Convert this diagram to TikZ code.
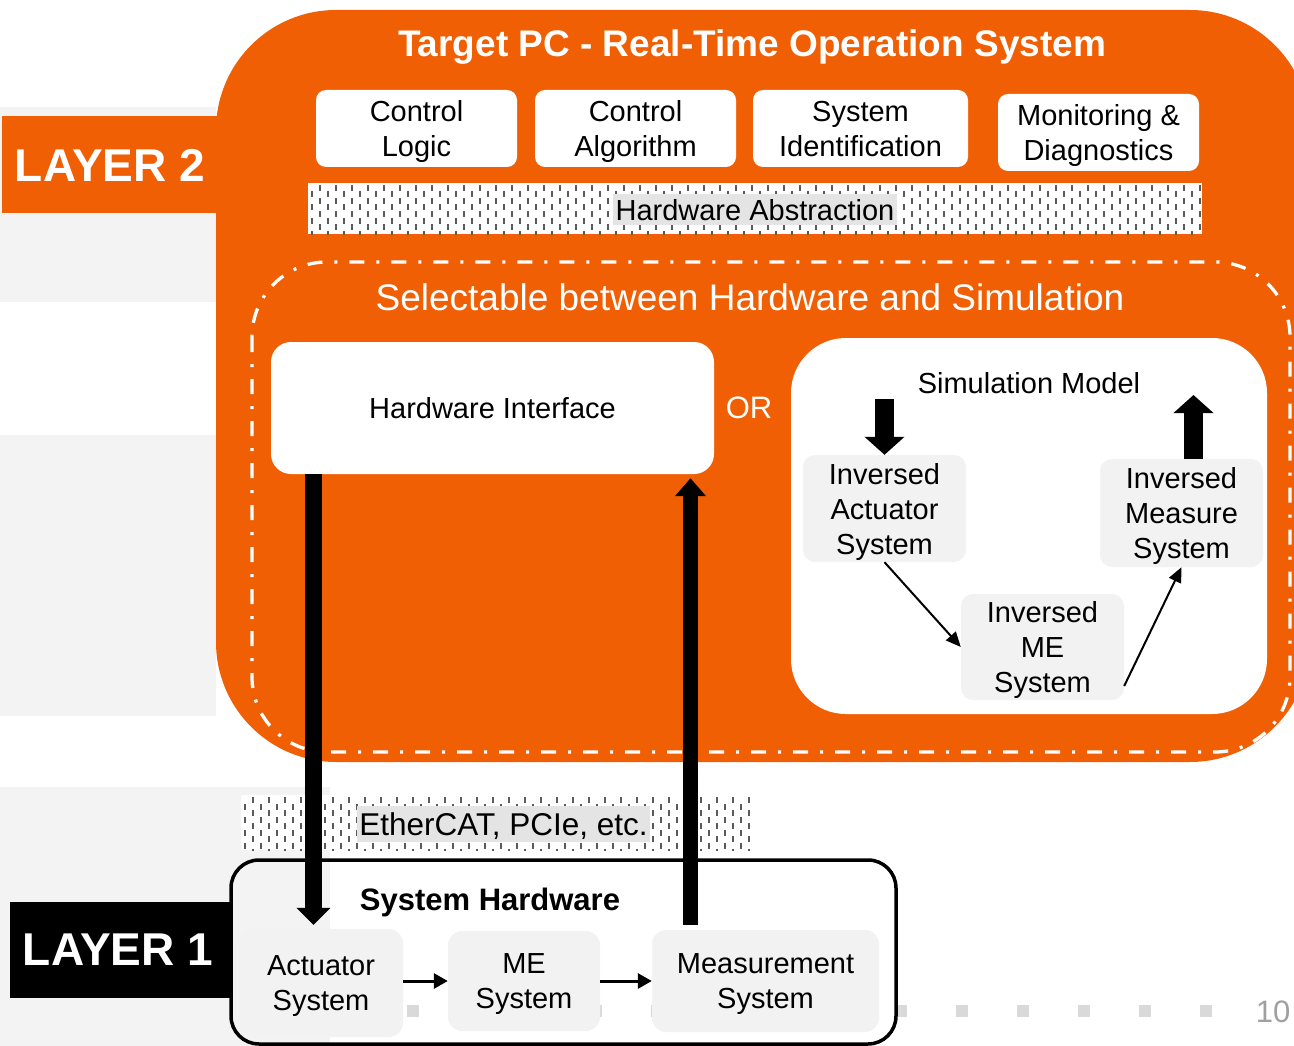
\documentclass[tikz,border=0pt]{standalone}
\usepackage{fontspec}
\setmainfont{Liberation Sans}
\usetikzlibrary{arrows.meta,calc}

\definecolor{orng}{RGB}{240,95,4}
\definecolor{bandgray}{RGB}{243,243,243}
\definecolor{boxgray}{RGB}{242,242,242}
\definecolor{labelgray}{RGB}{228,228,228}
\definecolor{patgray}{RGB}{90,90,90}
\definecolor{dotgray}{RGB}{217,217,217}
\definecolor{numgray}{RGB}{160,160,160}

\tikzset{
  txt/.style={font=\fontsize{29}{35}\selectfont},
  topbox/.style={fill=white, rounded corners=10pt, inner sep=0pt, align=center, text depth=0pt, txt},
  graybox/.style={fill=boxgray, rounded corners=14pt, inner sep=0pt, align=center, text depth=0pt, txt},
  layerlbl/.style={text=white, font=\bfseries\fontsize{46}{52}\selectfont},
  patlabel/.style={fill=labelgray, inner sep=0pt, text depth=0pt, txt},
  bigarrow/.style={line width=17pt, -{Triangle[length=17pt,width=33pt]}},
  midarrow/.style={line width=19pt, -{Triangle[length=18pt,width=39pt]}},
  thinarrow/.style={line width=2pt, -{Triangle[length=15pt,width=13pt]}},
  hwarrow/.style={line width=3pt, -{Triangle[length=14pt,width=15pt]}},
  patline/.style={patgray, line width=1.8pt, dash pattern=on 6pt off 7pt},
}

\begin{document}
\begin{tikzpicture}[x=1pt,y=-1pt]
\useasboundingbox (0,0) rectangle (1294,1046);

% slide background bands and page markers
\fill[bandgray] (0,107) rectangle (216,302);
\fill[bandgray] (0,435) rectangle (216,716);
\fill[bandgray] (0,787) rectangle (330,1046);
\foreach \k in {0,...,13} \fill[dotgray] ({407+61*\k},1005) rectangle +(12,12);

% target PC (layer 2)
\fill[orng, rounded corners=120pt] (216,10) rectangle (1310,762);
\fill[orng] (2,116) rectangle (230,213);
\node[layerlbl] (l2) at (110,165) {LAYER 2};
\node[text=white, font=\bfseries\fontsize{37}{44}\selectfont] (title) at (752,47)
  {Target PC - Real-Time Operation System};

\node[topbox, minimum width=201pt, minimum height=77pt] (logic) at (416.5,128.5) {Control\\Logic};
\node[topbox, minimum width=201pt, minimum height=77pt] (algo) at (635.5,128.5) {Control\\Algorithm};
\node[topbox, minimum width=215pt, minimum height=77pt] (sysid) at (860.5,128.5) {System\\Identification};
\node[topbox, minimum width=201pt, minimum height=77pt] (monit) at (1098.5,132.5) {Monitoring \&\\Diagnostics};

% hardware abstraction strip
\fill[white] (308,183) rectangle (1202,234);
\begin{scope}
  \clip (308,183) rectangle (1202,234);
  \foreach \xx [count=\c] in {312,320,...,1200} {
    \pgfmathsetmacro\ph{mod(\c,2)*6.5}
    \draw[patline, dash phase=\ph pt] (\xx,185) -- (\xx,236);
  }
\end{scope}
\node[patlabel, minimum width=284pt, minimum height=31pt] (habs) at (755,209.5) {Hardware Abstraction};

% selectable region
\draw[white, line width=3.3pt, dash pattern=on 15pt off 12pt on 3pt off 12pt,
      rounded corners=75pt] (252,262) rectangle (1290,752);
\node[text=white, font=\fontsize{37}{44}\selectfont] (sel) at (750,297)
  {Selectable between Hardware and Simulation};

\node[topbox, rounded corners=20pt, minimum width=443pt, minimum height=132pt] (hwif)
  at (492.5,408) {Hardware Interface};
\node[text=white, font=\fontsize{31}{37}\selectfont] (or) at (749,408) {OR};

\node[fill=white, rounded corners=55pt, minimum width=476pt, minimum height=376pt] (simbox)
  at (1029,526) {};
\node[txt] (simtitle) at (1029,383) {Simulation Model};
\node[graybox, rounded corners=12pt, minimum width=163pt, minimum height=107pt] (invact)
  at (884.5,508.5) {Inversed\\Actuator\\System};
\node[graybox, rounded corners=12pt, minimum width=163pt, minimum height=108pt] (invmeas)
  at (1181.5,513) {Inversed\\Measure\\System};
\node[graybox, rounded corners=12pt, minimum width=163pt, minimum height=106pt] (invme)
  at (1042.5,647) {Inversed\\ME\\System};

\coordinate (simin) at (884.5,399);
\coordinate (simout) at (1193.5,395);
\draw[midarrow] (simin) -- (invact.north);
\draw[midarrow] (invmeas.north -| simout) -- (simout);
\draw[thinarrow] (invact.south) -- (invme.west);
\draw[thinarrow] ($(invme.east)+(0,39)$) -- (invmeas.south);

% fieldbus strip
\fill[white] (241,795) rectangle (751,850);
\begin{scope}
  \clip (241,795) rectangle (751,850);
  \foreach \xx [count=\c] in {245,253,...,750} {
    \pgfmathsetmacro\ph{mod(\c,2)*6.5}
    \draw[patline, dash phase=\ph pt] (\xx,797) -- (\xx,852);
  }
\end{scope}
\node[patlabel, minimum width=293pt, minimum height=36pt, font=\fontsize{31.5}{37}\selectfont] (eth)
  at (503.5,824) {EtherCAT, PCIe, etc.};

% system hardware (layer 1)
\node[draw=black, line width=3.5pt, rounded corners=28pt, minimum width=665pt,
      minimum height=184pt] (syshw) at (563.5,952) {};
\node[font=\bfseries\fontsize{31}{37}\selectfont] (syshwlbl) at (490,902) {System Hardware};
\fill[black] (10,902) rectangle (230,998);
\node[layerlbl] (l1) at (118,950) {LAYER 1};

\node[graybox, minimum width=164pt, minimum height=108pt] (act) at (321,983) {Actuator\\System};
\node[graybox, minimum width=152pt, minimum height=100pt] (me) at (524,981) {ME\\System};
\node[graybox, minimum width=227pt, minimum height=102pt] (meas) at (765.5,981) {Measurement\\System};

\draw[hwarrow] (me.west -| act.east) -- (me.west);
\draw[hwarrow] (meas.west -| me.east) -- (meas.west);

% links between hardware interface and hardware
\coordinate (dnx) at (313.5,0);
\coordinate (upx) at (690.5,0);
\draw[bigarrow, shorten >=4pt] (hwif.south -| dnx) -- (act.north -| dnx);
\draw[line width=15pt, -{Triangle[length=18pt,width=30pt]}, shorten <=5pt, shorten >=4pt]
  (meas.north -| upx) -- (hwif.south -| upx);

\node[text=numgray, font=\fontsize{31}{37}\selectfont] (pgnum) at (1273,1012) {10};
\end{tikzpicture}
\end{document}
